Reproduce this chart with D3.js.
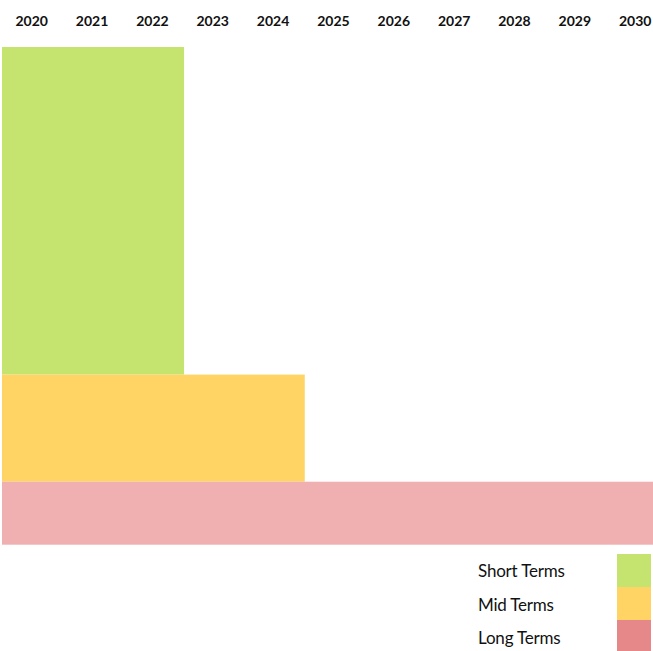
<!DOCTYPE html>
<html><head><meta charset="utf-8">
<script src="https://cdn.jsdelivr.net/npm/d3@7"></script>
<style>body{margin:0;background:#fff;} svg{display:block;}</style>
</head><body>
<script>
const years = [2020,2021,2022,2023,2024,2025,2026,2027,2028,2029,2030];
const terms = ["Short Terms","Mid Terms","Long Terms"];
const startYears = [2020,2020,2020];
const endYears = [2022,2024,2030];
const weights = [52,17,10];
const barColors = ["#c5e46f","#ffd464","#f0b0b2"];
const legendColors = ["#c5e46f","#ffd464","#e6878a"];

const W = 653, H = 651;
const svg = d3.select("body").append("svg").attr("width",W).attr("height",H);

const x = d3.scaleBand().domain(years).range([1.5, 1.5 + 60.35*years.length]).padding(0);
const total = d3.sum(weights);
const y = d3.scaleLinear().domain([0,total]).range([47, 47 + 6.3*total]);

// axis labels
const axis = d3.axisTop(x).tickSize(0).tickPadding(0);
const ag = svg.append("g").attr("transform","translate(0,26)").call(axis);
ag.select(".domain").remove();
ag.selectAll("text").attr("font-family","Lato, 'Open Sans', sans-serif").attr("font-weight","bold")
  .attr("font-size",14).attr("fill","#111").attr("dy",0);

// bars
let cum = [];
weights.reduce((a,w,i)=>{cum[i]=a; return a+w;},0);
svg.append("g").selectAll("rect").data(terms).join("rect")
  .attr("x",(d,i)=>x(startYears[i])+0.5)
  .attr("y",(d,i)=>y(cum[i]))
  .attr("width",(d,i)=>x(endYears[i])+x.bandwidth()-x(startYears[i])+1)
  .attr("height",(d,i)=>y(cum[i]+weights[i])-y(cum[i]))
  .attr("fill",(d,i)=>barColors[i]);

// legend
const lg = svg.append("g");
terms.forEach((t,i)=>{
  lg.append("rect").attr("x",617).attr("y",554+i*33).attr("width",34).attr("height",i===2?31:33).attr("fill",legendColors[i]);
  lg.append("text").attr("x",478).attr("y",577+i*33.5).text(t)
    .attr("font-family","Lato, 'Open Sans', sans-serif").attr("font-size",17).attr("fill","#111")
    .attr("letter-spacing","-0.2");
});
</script>
</body></html>
